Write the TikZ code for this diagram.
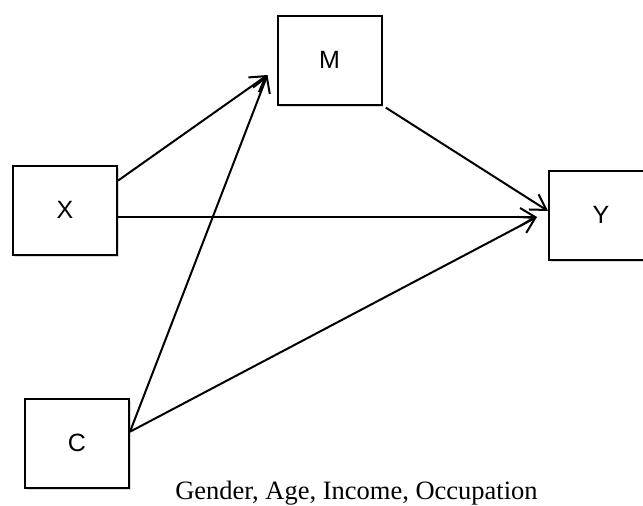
\documentclass[tikz,border=0pt]{standalone}
\usepackage{fontspec}
\setmainfont{Liberation Serif}
\setsansfont{Liberation Sans}
\usetikzlibrary{arrows.meta,shadows}

\begin{document}
\begin{tikzpicture}[x=1pt,y=-1pt]
    \useasboundingbox (0,0) rectangle (643,506);
    \begin{scope}[every node/.style={rectangle,draw,line width=2pt,fill=white,
                  minimum width=104pt,minimum height=89pt,inner sep=0pt,
                  font=\sffamily\fontsize{25}{30}\selectfont,
                  drop shadow={shadow xshift=1.5pt,shadow yshift=-2.5pt,opacity=0.3}}]
        \node (X) at (65,210) {X};
        \node (M) at (329.5,60) {M};
        \node (Y) at (601,215) {Y};
        \node (C) at (77,443) {C};
    \end{scope}

    \coordinate (mIn) at ([xshift=-9pt,yshift=-15pt]M.west);
    \coordinate (yIn) at ([xshift=-11pt,yshift=-2pt]Y.west);

    \begin{scope}[every edge/.style={draw=black,line width=2pt},
                  >={Straight Barb[length=15pt,width=18pt]}]
        \path [->] (X.29) edge (mIn);
        \path [->] (C.12) edge (mIn);
        \path [->] ([yshift=-7pt]X.east) edge (yIn);
        \path [->] (M.south east) edge[shorten <=4pt] ([yshift=4pt]Y.west);
        \path [->] (C.12) edge (yIn);
    \end{scope}

    \node[anchor=base,font=\fontsize{26.5}{30}\selectfont] (covars) at (356.5,499) {Gender, Age, Income, Occupation};
\end{tikzpicture}
\end{document}
